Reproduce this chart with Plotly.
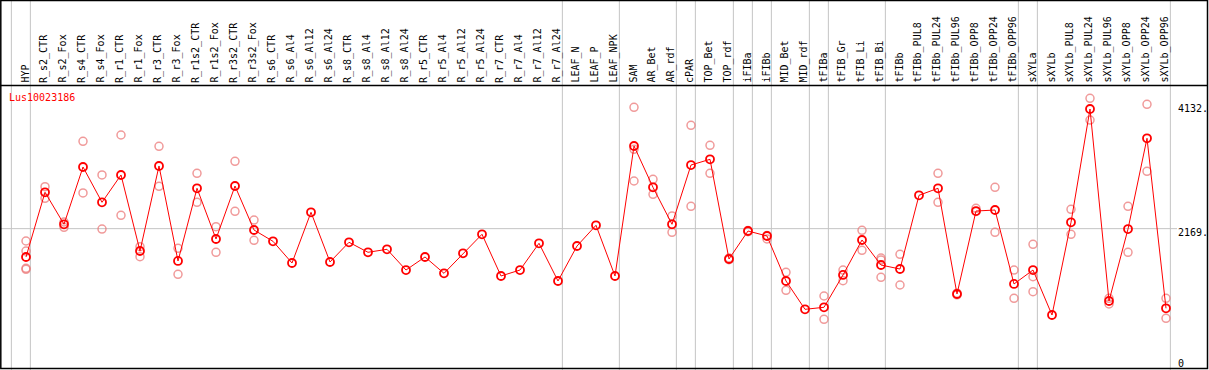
import plotly.graph_objects as go

W, H = 1209, 370

categories = [
    "HYP", "R_s2_CTR", "R_s2_Fox", "R_s4_CTR", "R_s4_Fox", "R_r1_CTR", "R_r1_Fox",
    "R_r3_CTR", "R_r3_Fox", "R_r1s2_CTR", "R_r1s2_Fox", "R_r3s2_CTR", "R_r3s2_Fox",
    "R_s6_CTR", "R_s6_Al4", "R_s6_Al12", "R_s6_Al24", "R_s8_CTR", "R_s8_Al4",
    "R_s8_Al12", "R_s8_Al24", "R_r5_CTR", "R_r5_Al4", "R_r5_Al12", "R_r5_Al24",
    "R_r7_CTR", "R_r7_Al4", "R_r7_Al12", "R_r7_Al24", "LEAF_N", "LEAF_P", "LEAF_NPK",
    "SAM", "AR_Bet", "AR_rdf", "cPAR", "TOP_Bet", "TOP_rdf", "iFIBa", "iFIBb",
    "MID_Bet", "MID_rdf", "tFIBa", "tFIB_Gr", "tFIB_Li", "tFIB_Bi", "tFIBb",
    "tFIBb_PUL8", "tFIBb_PUL24", "tFIBb_PUL96", "tFIBb_OPP8", "tFIBb_OPP24",
    "tFIBb_OPP96", "sXYLa", "sXYLb", "sXYLb_PUL8", "sXYLb_PUL24", "sXYLb_PUL96",
    "sXYLb_OPP8", "sXYLb_OPP24", "sXYLb_OPP96",
]

mean_values = [
    1722, 2743, 2238, 3142, 2585, 3016, 1816, 3158, 1659, 2806, 2006, 2842, 2148,
    1969, 1627, 2427, 1643, 1954, 1796, 1843, 1516, 1722, 1464, 1780, 2080,
    1422, 1516, 1938, 1343, 1895, 2222, 1422,
    3473, 2821, 2238, 3173, 3263, 1690, 2132, 2053,
    1343, 896, 928, 1438, 1990, 1595, 1532,
    2695, 2806, 1138, 2447, 2463, 1296, 1516, 806,
    2269, 4057, 1027, 2163, 3595, 912,
]

replicates = [
    [1974, 1816, 1543, 1528], [2831, 2648], [2274, 2190], [3547, 2732], [3016, 2163],
    [3647, 2380], [1884, 1726], [3468, 2837], [1859, 1449], [3042, 2585], [2200, 1796],
    [3232, 2443], [2305, 1985],
    [], [], [], [], [], [], [], [], [], [], [], [], [], [], [], [], [], [], [],
    [4084, 3421, 2921], [2948, 2711], [2369, 2111], [3800, 2522], [3484, 3042],
    [1705, 1680], [2140, 2120], [2006, 2060],
    [1480, 1196], [], [1106, 739], [1516, 1348], [2143, 1827], [1706, 1674, 1401],
    [1764, 1280],
    [], [3042, 2585], [1150, 1125], [2490, 2440], [2821, 2111], [1516, 1070],
    [1922, 1411, 1174], [],
    [2474, 2080], [4226, 3883], [1070, 980], [2522, 1796], [4131, 3074], [1070, 754],
]

group_starts = [0, 1, 29, 32, 35, 36, 38, 39, 40, 42, 43, 46, 53, 54, 61]
gene_name = "Lus10023186"
scale_ticks = [4132, 2169, 0]
scale_labels = ["4132.", "2169.", "0"]

# pixel geometry helpers
X0_PX, STEP_PX = 26.0, 19.0
Y0_PX, PX_PER_UNIT = 366.1, 0.06337
x_range = [-X0_PX / STEP_PX, (W - X0_PX) / STEP_PX]
y_range = [(Y0_PX - H) / PX_PER_UNIT, Y0_PX / PX_PER_UNIT]


def px_x(p):
    return p / W


def px_y(p):
    return 1 - p / H


rep_x, rep_y = [], []
for cat, reps in zip(categories, replicates):
    for v in reps:
        rep_x.append(cat)
        rep_y.append(v)

fig = go.Figure()
fig.add_trace(go.Scatter(
    x=rep_x, y=rep_y, mode="markers",
    marker=dict(symbol="circle-open", size=8, color="rgba(235,120,120,0.75)",
                line=dict(width=1.5, color="rgba(235,120,120,0.75)")),
    hoverinfo="skip", showlegend=False,
))
fig.add_trace(go.Scatter(
    x=categories, y=mean_values, mode="lines+markers",
    line=dict(color="#ff0000", width=1),
    marker=dict(symbol="circle-open", size=8, color="#ff0000",
                line=dict(width=1.8, color="#ff0000")),
    showlegend=False,
))

shapes = []
for g in group_starts:
    shapes.append(dict(type="line", xref="x", yref="paper",
                       x0=g - 0.77, x1=g - 0.77, y0=0, y1=1,
                       line=dict(color="#c4c4c4", width=1), layer="below"))
shapes.append(dict(type="line", xref="paper", yref="y",
                   x0=0, x1=px_x(1177), y0=2169, y1=2169,
                   line=dict(color="#c4c4c4", width=1), layer="below"))
# header separator and frame
shapes.append(dict(type="line", xref="paper", yref="paper",
                   x0=0, x1=px_x(1208), y0=px_y(85.5), y1=px_y(85.5),
                   line=dict(color="black", width=1.5)))
shapes.append(dict(type="rect", xref="paper", yref="paper",
                   x0=px_x(0.8), x1=px_x(1207.5), y0=px_y(368.5), y1=px_y(0.5),
                   line=dict(color="black", width=1.5)))

annotations = []
mono = "DejaVu Sans Mono"
for cat in categories:
    annotations.append(dict(
        x=cat, xref="x", y=px_y(84), yref="paper", text=cat, textangle=-90,
        showarrow=False, xanchor="center", yanchor="bottom", xshift=-1.5,
        font=dict(family=mono, size=10, color="black"), borderpad=0))
annotations.append(dict(
    x=px_x(8), y=px_y(97), xref="paper", yref="paper", text=gene_name,
    showarrow=False, xanchor="left", yanchor="middle",
    font=dict(family=mono, size=10, color="#ff0000"), borderpad=0))
label_centers = [108, 232, 363]
for lab, cy in zip(scale_labels, label_centers):
    annotations.append(dict(
        x=px_x(1177), y=px_y(cy), xref="paper", yref="paper", text=lab,
        showarrow=False, xanchor="left", yanchor="middle",
        font=dict(family=mono, size=10, color="black"), borderpad=0))

fig.update_layout(
    width=W, height=H,
    margin=dict(l=0, r=0, t=0, b=0, pad=0),
    paper_bgcolor="white", plot_bgcolor="white",
    xaxis=dict(type="category", categoryorder="array", categoryarray=categories,
               range=x_range, visible=False, fixedrange=True),
    yaxis=dict(range=y_range, visible=False, fixedrange=True),
    shapes=shapes, annotations=annotations,
    showlegend=False,
)

fig.write_html("out.html", config={"displayModeBar": False},
               post_script="document.body.style.margin='0';document.body.style.overflow='hidden';")
